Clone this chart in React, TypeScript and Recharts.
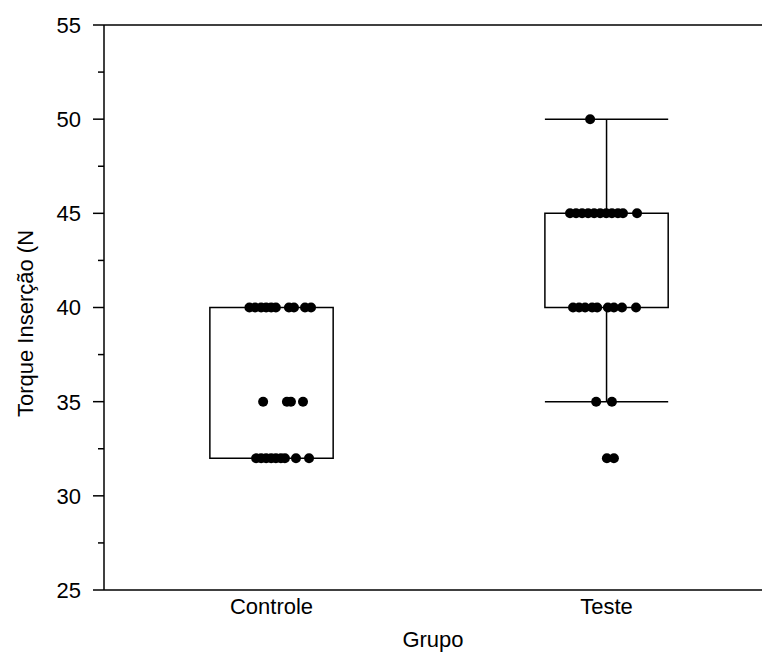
import {
  ComposedChart,
  ReferenceArea,
  ReferenceLine,
  Scatter,
  XAxis,
  YAxis,
} from 'recharts'

const groups = ['Controle', 'Teste']
const groupPos = [1, 2]

// box edges and whiskers per group
const boxLow = [32, 40]
const boxHigh = [40, 45]
const whiskerLow = [32, 35]
const whiskerHigh = [40, 50]

// individual observations (jittered x, value)
const controleX = [
  0.934, 0.951, 0.969, 0.984, 0.999, 1.013, 1.052, 1.067, 1.1, 1.118,
  0.975, 1.046, 1.058, 1.094,
  0.954, 0.969, 0.984, 0.999, 1.013, 1.028, 1.04, 1.073, 1.112,
]
const controleY = [
  40, 40, 40, 40, 40, 40, 40, 40, 40, 40,
  35, 35, 35, 35,
  32, 32, 32, 32, 32, 32, 32, 32, 32,
]
const testeX = [
  1.951,
  1.891, 1.909, 1.927, 1.945, 1.963, 1.981, 1.999, 2.016, 2.034, 2.049, 2.091,
  1.9, 1.918, 1.936, 1.957, 1.972, 2.004, 2.022, 2.046, 2.088,
  1.969, 2.016,
  2.001, 2.022,
]
const testeY = [
  50,
  45, 45, 45, 45, 45, 45, 45, 45, 45, 45, 45,
  40, 40, 40, 40, 40, 40, 40, 40, 40,
  35, 35,
  32, 32,
]

const yTicks = [25, 27.5, 30, 32.5, 35, 37.5, 40, 42.5, 45, 47.5, 50, 52.5, 55]

const boxHalf = 0.184
const font = "Arial, 'Liberation Sans', sans-serif"
const fs = 22

const points = [
  ...controleX.map((x, i) => ({ x, y: controleY[i] })),
  ...testeX.map((x, i) => ({ x, y: testeY[i] })),
]

const YTick = (props: any) => {
  const { x, y, payload } = props
  const major = payload.value % 5 === 0
  return (
    <g>
      <line x1={x - (major ? 11 : 6)} x2={x} y1={y} y2={y} stroke="#000" strokeWidth={1.5} />
      {major && (
        <text x={x - 23} y={y} dy="0.36em" textAnchor="end" fontSize={fs} fill="#000" fontFamily={font}>
          {payload.value}
        </text>
      )}
    </g>
  )
}

const Dot = (props: any) => <circle cx={props.cx} cy={props.cy} r={5} fill="#000" />

export default function App() {
  return (
    <div style={{ position: 'absolute', left: 0, top: 0 }}>
      <ComposedChart
        width={762}
        height={653}
        margin={{ top: 25, right: 0, bottom: 0, left: 0 }}
        style={{ fontFamily: font }}
      >
        <XAxis
          type="number"
          dataKey="x"
          domain={[0.5, 2.464]}
          ticks={groupPos}
          tickFormatter={(v: number) => groups[groupPos.indexOf(v)] ?? ''}
          height={63}
          axisLine={{ stroke: '#000', strokeWidth: 1.5 }}
          tickLine={false}
          tickSize={0}
          tickMargin={8}
          tick={{ fill: '#000', fontSize: fs, fontFamily: font }}
          allowDataOverflow
          label={{ value: 'Grupo', position: 'insideBottom', offset: 6, fill: '#000', fontSize: fs, fontFamily: font }}
        />
        <YAxis
          type="number"
          dataKey="y"
          domain={[25, 55]}
          ticks={yTicks}
          interval={0}
          width={104}
          tickSize={0}
          tickMargin={0}
          tickLine={false}
          tick={<YTick />}
          axisLine={{ stroke: '#000', strokeWidth: 1.5 }}
          label={{
            value: 'Torque Inserção (N',
            angle: -90,
            position: 'insideLeft',
            offset: 25,
            dy: 16,
            fill: '#000',
            fontSize: fs,
            fontFamily: font,
            style: { textAnchor: 'middle' },
          }}
        />
        <ReferenceLine y={55} stroke="#000" strokeWidth={1.5} />
        {groupPos.map((g, i) => (
          <ReferenceArea
            key={'box' + i}
            x1={g - boxHalf}
            x2={g + boxHalf}
            y1={boxLow[i]}
            y2={boxHigh[i]}
            fill="#fff"
            fillOpacity={0}
            stroke="#000"
            strokeWidth={1.5}
          />
        ))}
        {groupPos.map((g, i) =>
          whiskerHigh[i] > boxHigh[i] ? (
            <ReferenceLine
              key={'wh' + i}
              segment={[{ x: g, y: boxHigh[i] }, { x: g, y: whiskerHigh[i] }]}
              stroke="#000"
              strokeWidth={1.5}
            />
          ) : null
        )}
        {groupPos.map((g, i) =>
          whiskerHigh[i] > boxHigh[i] ? (
            <ReferenceLine
              key={'whc' + i}
              segment={[{ x: g - boxHalf, y: whiskerHigh[i] }, { x: g + boxHalf, y: whiskerHigh[i] }]}
              stroke="#000"
              strokeWidth={1.5}
            />
          ) : null
        )}
        {groupPos.map((g, i) =>
          whiskerLow[i] < boxLow[i] ? (
            <ReferenceLine
              key={'wl' + i}
              segment={[{ x: g, y: whiskerLow[i] }, { x: g, y: boxLow[i] }]}
              stroke="#000"
              strokeWidth={1.5}
            />
          ) : null
        )}
        {groupPos.map((g, i) =>
          whiskerLow[i] < boxLow[i] ? (
            <ReferenceLine
              key={'wlc' + i}
              segment={[{ x: g - boxHalf, y: whiskerLow[i] }, { x: g + boxHalf, y: whiskerLow[i] }]}
              stroke="#000"
              strokeWidth={1.5}
            />
          ) : null
        )}
        <Scatter data={points} shape={<Dot />} isAnimationActive={false} />
      </ComposedChart>
    </div>
  )
}
